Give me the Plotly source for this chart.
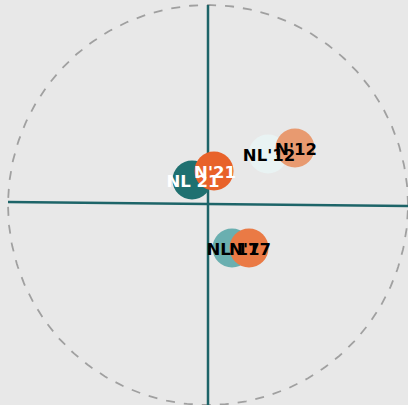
import plotly.graph_objects as go
import numpy as np

labels = ["NL 21", "N'21", "NL'12", "N'12", "NL 17", "N'17"]
x_vals = [-0.08, 0.03, 0.30, 0.435, 0.12, 0.205]
y_vals = [0.125, 0.17, 0.255, 0.285, -0.215, -0.215]
marker_colors = ["#1f7070", "#e8622a", "#e9f3f3", "#e89a70", "#6aafb0", "#ea7a45"]
text_colors = ["white", "white", "black", "black", "black", "black"]

fig = go.Figure()

# unit circle
theta = np.linspace(0, 2 * np.pi, 361)
fig.add_trace(go.Scatter(x=np.cos(theta), y=np.sin(theta), mode="lines",
                         line=dict(color="#a0a0a0", width=1.8, dash="dash"),
                         hoverinfo="skip", showlegend=False))

# axes lines
fig.add_trace(go.Scatter(x=[-1.0, 1.04], y=[0.015, -0.006], mode="lines",
                         line=dict(color="#1d6468", width=2.5), hoverinfo="skip", showlegend=False))
fig.add_trace(go.Scatter(x=[0, 0], y=[1.0, -1.1], mode="lines",
                         line=dict(color="#1d6468", width=2.5), hoverinfo="skip", showlegend=False))

# markers
fig.add_trace(go.Scatter(x=x_vals, y=y_vals, mode="markers",
                         marker=dict(size=39, color=marker_colors, line=dict(width=0)),
                         showlegend=False))
# labels on top
fig.add_trace(go.Scatter(x=[v + 0.005 for v in x_vals], y=[v - 0.012 for v in y_vals],
                         mode="text", text=labels,
                         textposition="middle center",
                         textfont=dict(family="DejaVu Sans", size=16.5, color=text_colors, weight="bold"),
                         hoverinfo="skip", showlegend=False))

fig.update_layout(
    width=408, height=405,
    margin=dict(l=0, r=0, t=0, b=0),
    paper_bgcolor="#e8e8e8", plot_bgcolor="#e8e8e8",
    xaxis=dict(range=[-1.04, 1.0], visible=False, fixedrange=True),
    yaxis=dict(range=[-1.0, 1.025], visible=False, fixedrange=True),
    showlegend=False,
)

fig.write_html("out.html", config={"displayModeBar": False},
               post_script="document.body.style.margin='0';document.body.style.background='#e8e8e8';")
